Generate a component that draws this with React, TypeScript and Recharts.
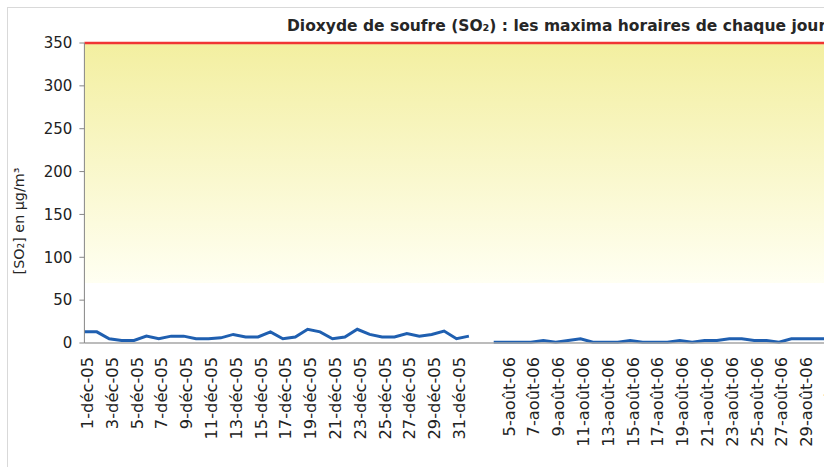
import React from 'react';
import { LineChart, Line, XAxis, YAxis, ReferenceArea, Customized } from 'recharts';

const FONT = "'DejaVu Sans', sans-serif";

const categories: string[] = [
  '1-déc-05', '2-déc-05', '3-déc-05', '4-déc-05', '5-déc-05', '6-déc-05', '7-déc-05', '8-déc-05',
  '9-déc-05', '10-déc-05', '11-déc-05', '12-déc-05', '13-déc-05', '14-déc-05', '15-déc-05', '16-déc-05',
  '17-déc-05', '18-déc-05', '19-déc-05', '20-déc-05', '21-déc-05', '22-déc-05', '23-déc-05', '24-déc-05',
  '25-déc-05', '26-déc-05', '27-déc-05', '28-déc-05', '29-déc-05', '30-déc-05', '31-déc-05', '1-janv-06',
  '',
  '4-août-06', '5-août-06', '6-août-06', '7-août-06', '8-août-06', '9-août-06', '10-août-06', '11-août-06',
  '12-août-06', '13-août-06', '14-août-06', '15-août-06', '16-août-06', '17-août-06', '18-août-06', '19-août-06',
  '20-août-06', '21-août-06', '22-août-06', '23-août-06', '24-août-06', '25-août-06', '26-août-06', '27-août-06',
  '28-août-06', '29-août-06', '30-août-06', '31-août-06',
];

// Lycée, December 2005 period (1-déc-05 .. 1-janv-06)
const decValues: number[] = [
  13, 13, 5, 3, 3, 8, 5, 8, 8, 5, 5, 6, 10, 7, 7, 13,
  5, 7, 16, 13, 5, 7, 16, 10, 7, 7, 11, 8, 10, 14, 5, 8,
];

// Lycée, August 2006 period (4-août-06 .. 31-août-06)
const augValues: number[] = [
  1, 1, 1, 1, 3, 1, 3, 5, 1, 1, 1, 3, 1, 1, 1, 3,
  1, 3, 3, 5, 5, 3, 3, 1, 5, 5, 5, 5,
];

const limitValue = 350;
const yTicks: number[] = [0, 50, 100, 150, 200, 250, 300, 350];

const augStart = categories.length - augValues.length;
const data = categories.map((date, i) => ({
  date,
  lycee: i < decValues.length ? decValues[i] : i >= augStart ? augValues[i - augStart] : null,
  seuil: limitValue,
}));

const DateTick = (props: any) => {
  const { x, y, payload } = props;
  if (!payload || !payload.value) return null;
  return (
    <text
      transform={`translate(${x},${y + 14}) rotate(-90)`}
      textAnchor="end"
      dy={8.5}
      fontSize={16.3}
      fontFamily={FONT}
      fill="#222"
    >
      {payload.value}
    </text>
  );
};

const Overlay = () => (
  <g fontFamily={FONT}>
    <text x={279} y={23} fontSize={15.5} fontWeight="bold" fill="#262626">
      Dioxyde de soufre (SO₂) : les maxima horaires de chaque jour
    </text>
    <text x={89} y={67.5} fontSize={14} fill="#f03535">
      Seuil de la valeur limite
    </text>
    <line x1={710} x2={744} y1={68} y2={68} stroke="#1f5fb0" strokeWidth={3} />
    <text x={748} y={73} fontSize={12.8} fill="#2a5ca8">
      Lycée
    </text>
    <text transform="translate(16,213) rotate(-90)" textAnchor="middle" fontSize={14.3} fill="#262626">
      [SO₂] en µg/m³
    </text>
  </g>
);

export default function App() {
  return (
    <div
      style={{
        position: 'absolute',
        left: 7,
        top: 7,
        width: 816,
        height: 459,
        borderTop: '1px solid #d9d9d9',
        borderLeft: '1px solid #d9d9d9',
        overflow: 'hidden',
        background: '#fff',
      }}
    >
      <LineChart
        width={840}
        height={460}
        data={data}
        margin={{ top: 35, right: 19.4, left: 0, bottom: 0 }}
      >
        <defs>
          <linearGradient id="bgGrad" x1="0" y1="0" x2="0" y2="1">
            <stop offset="0%" stopColor="#f3efa0" />
            <stop offset="100%" stopColor="#fffff2" />
          </linearGradient>
        </defs>
        <XAxis
          dataKey="date"
          interval={1}
          height={125}
          tickLine={false}
          tickSize={0}
          tickMargin={0}
          tick={<DateTick />}
          stroke="#a6a6a6"
          strokeWidth={1.5}
        />
        <YAxis
          width={76.4}
          domain={[0, 350]}
          ticks={yTicks}
          interval={0}
          tickSize={5}
          tickMargin={7}
          stroke="#868686"
          tick={{ fontSize: 15, fontFamily: FONT, fill: '#222' }}
        />
        <ReferenceArea y1={70} y2={350} fill="url(#bgGrad)" fillOpacity={1} stroke="none" />
        <Line
          dataKey="seuil"
          type="linear"
          stroke="#f03535"
          strokeWidth={2.5}
          dot={false}
          isAnimationActive={false}
        />
        <Line
          dataKey="lycee"
          type="linear"
          stroke="#1f5fb0"
          strokeWidth={3}
          dot={false}
          connectNulls={false}
          isAnimationActive={false}
        />
        <Customized component={Overlay} />
      </LineChart>
    </div>
  );
}
